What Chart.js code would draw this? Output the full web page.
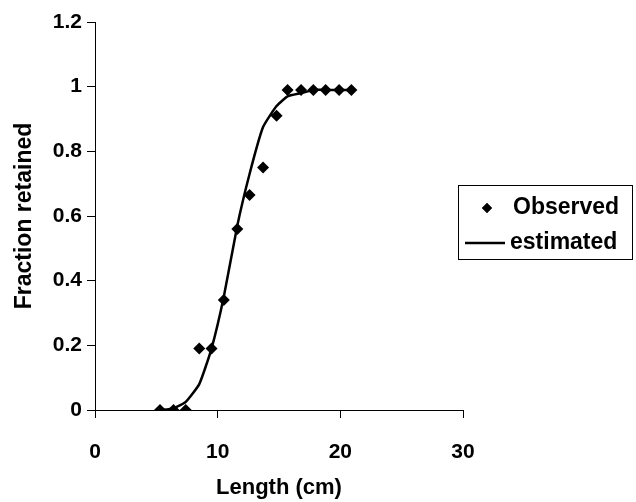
<!DOCTYPE html>
<html><head><meta charset="utf-8">
<script src="https://cdn.jsdelivr.net/npm/chart.js@4/dist/chart.umd.min.js"></script>
<style>html,body{margin:0;padding:0;background:#fff}#wrap{width:636px;height:502px}</style>
</head><body><div id="wrap"><canvas id="c" width="636" height="502"></canvas></div>
<script>
const lengths   = [5.3, 6.4, 7.4, 8.5, 9.5, 10.5, 11.6, 12.6, 13.7, 14.8, 15.7, 16.8, 17.8, 18.8, 19.9, 20.9];
const observed  = [0, 0, 0, 0.19, 0.19, 0.34, 0.56, 0.665, 0.75, 0.91, 0.99, 0.99, 0.99, 0.99, 0.99, 0.99];
const estimated = [0, 0.005, 0.025, 0.08, 0.19, 0.35, 0.57, 0.73, 0.875, 0.94, 0.97, 0.98, 0.99, 0.99, 0.99, 0.99];
const xTicks = [0, 10, 20, 30];
const yTicks = [0, 0.2, 0.4, 0.6, 0.8, 1, 1.2];
const seriesNames = ['Observed', 'estimated'];
const xTitle = 'Length (cm)';
const yTitle = 'Fraction retained';

const FAMILY = "'Liberation Sans', Arial, Helvetica, sans-serif";
Chart.defaults.font.family = FAMILY;
Chart.defaults.color = '#000';

const boxLegend = {
  id: 'boxLegend',
  afterDraw(chart) {
    const ctx = chart.ctx;
    const ds = chart.data.datasets;
    ctx.save();
    ctx.strokeStyle = '#000';
    ctx.lineWidth = 1;
    ctx.strokeRect(458.5, 185.5, 174, 74);
    ctx.font = 'bold 23px ' + FAMILY;
    ctx.fillStyle = '#000';
    ctx.textBaseline = 'middle';
    ctx.textAlign = 'left';
    Chart.helpers.drawPoint(ctx, {pointStyle: ds[0].pointStyle, radius: 5, rotation: 0, borderWidth: 0}, 487, 208);
    ctx.fill();
    ctx.fillText(ds[0].label, 513, 208);
    ctx.beginPath();
    ctx.lineWidth = ds[1].borderWidth;
    ctx.moveTo(465, 243); ctx.lineTo(505, 243);
    ctx.stroke();
    ctx.fillText(ds[1].label, 510, 243);
    ctx.restore();
  }
};

new Chart(document.getElementById('c'), {
  type: 'scatter',
  data: {
    datasets: [
      {
        label: seriesNames[0],
        data: lengths.map((x, i) => ({x: x, y: observed[i]})),
        pointStyle: 'rectRot', pointRadius: 6, pointBorderWidth: 0,
        backgroundColor: '#000', borderColor: '#000', showLine: false, order: 0
      },
      {
        label: seriesNames[1],
        data: lengths.map((x, i) => ({x: x, y: estimated[i]})),
        showLine: true, pointRadius: 0, borderColor: '#000', borderWidth: 2.5,
        tension: 0.15, fill: false, order: 1
      }
    ]
  },
  options: {
    responsive: false, animation: false, devicePixelRatio: 1,
    layout: {padding: {left: 0, right: 173, top: 22, bottom: 0}},
    plugins: {legend: {display: false}, tooltip: {enabled: false}},
    scales: {
      x: {
        type: 'linear', min: 0, max: 30,
        afterBuildTicks: s => { s.ticks = xTicks.map(v => ({value: v})); },
        ticks: {font: {size: 21, weight: 'bold'}, color: '#000', padding: 22, maxRotation: 0, autoSkip: false,
                callback: v => String(v)},
        grid: {display: true, drawOnChartArea: false, drawTicks: true, tickLength: 8, color: '#000', lineWidth: 1},
        border: {display: true, color: '#000', width: 1},
        title: {display: true, text: xTitle, font: {size: 22, weight: 'bold'}, color: '#000', padding: {top: 0, bottom: 1}},
        afterFit: s => { s.height = 92; }
      },
      y: {
        type: 'linear', min: 0, max: 1.2,
        afterBuildTicks: s => { s.ticks = yTicks.map(v => ({value: v})); },
        ticks: {font: {size: 21, weight: 'bold'}, color: '#000', padding: 5, autoSkip: false,
                callback: v => String(v)},
        grid: {display: true, drawOnChartArea: false, drawTicks: true, tickLength: 8, color: '#000', lineWidth: 1},
        border: {display: true, color: '#000', width: 1},
        title: {display: true, text: yTitle, font: {size: 23, weight: 'bold'}, color: '#000', padding: {top: 11, bottom: 0}},
        afterFit: s => { s.width = 95; }
      }
    }
  },
  plugins: [boxLegend]
});
</script>
</body></html>
